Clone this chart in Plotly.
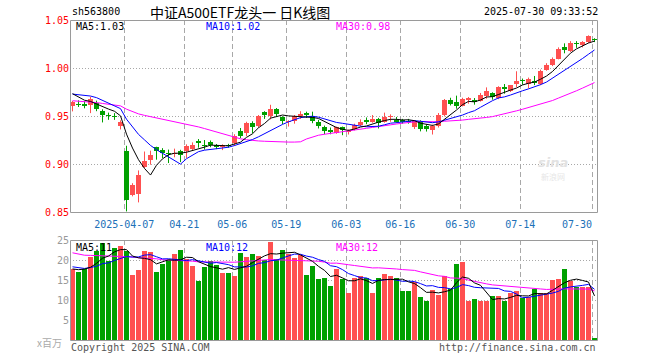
import plotly.graph_objects as go
import numpy as np

# ---------------- data ----------------
dates = [
    "2025-03-24","2025-03-25","2025-03-26","2025-03-27","2025-03-28","2025-03-31",
    "2025-04-01","2025-04-02","2025-04-03","2025-04-07","2025-04-08","2025-04-09","2025-04-10","2025-04-11",
    "2025-04-14","2025-04-15","2025-04-16","2025-04-17","2025-04-18","2025-04-21","2025-04-22","2025-04-23",
    "2025-04-24","2025-04-25","2025-04-28","2025-04-29","2025-04-30",
    "2025-05-06","2025-05-07","2025-05-08","2025-05-09","2025-05-12","2025-05-13","2025-05-14","2025-05-15",
    "2025-05-16","2025-05-19","2025-05-20","2025-05-21","2025-05-22","2025-05-23","2025-05-26","2025-05-27",
    "2025-05-28","2025-05-29","2025-05-30",
    "2025-06-03","2025-06-04","2025-06-05","2025-06-06","2025-06-09","2025-06-10","2025-06-11","2025-06-12",
    "2025-06-13","2025-06-16","2025-06-17","2025-06-18","2025-06-19","2025-06-20","2025-06-23","2025-06-24",
    "2025-06-25","2025-06-26","2025-06-27","2025-06-30",
    "2025-07-01","2025-07-02","2025-07-03","2025-07-04","2025-07-07","2025-07-08","2025-07-09","2025-07-10",
    "2025-07-11","2025-07-14","2025-07-15","2025-07-16","2025-07-17","2025-07-18","2025-07-21","2025-07-22",
    "2025-07-23","2025-07-24","2025-07-25","2025-07-28","2025-07-29","2025-07-30",
]

opens = [
    0.9607,0.9628,0.9626,0.9618,0.9635,0.9555,0.9510,0.9504,0.9392,0.9139,
    0.8680,0.8690,0.8969,0.9045,0.9173,0.9149,0.9115,0.9105,0.9131,0.9131,
    0.9160,0.9243,0.9201,0.9225,0.9201,0.9173,0.9194,0.9219,0.9347,0.9320,
    0.9427,0.9399,0.9538,0.9496,0.9573,0.9490,0.9434,0.9444,0.9496,0.9531,
    0.9503,0.9433,0.9385,0.9354,0.9323,0.9385,0.9333,0.9365,0.9406,0.9461,
    0.9440,0.9472,0.9440,0.9490,0.9461,0.9454,0.9450,0.9385,0.9444,0.9392,
    0.9350,0.9392,0.9514,0.9670,0.9642,0.9607,0.9670,0.9663,0.9660,0.9712,
    0.9740,0.9687,0.9800,0.9764,0.9833,0.9878,0.9833,0.9868,0.9836,0.9982,
    1.0027,1.0097,1.0215,1.0180,1.0260,1.0243,1.0271,1.0305,
]
highs = [
    0.9656,0.9663,0.9655,0.9700,0.9660,0.9570,0.9535,0.9530,0.9455,0.9190,
    0.8800,0.8933,0.9130,0.9139,0.9180,0.9165,0.9150,0.9160,0.9148,0.9205,
    0.9225,0.9260,0.9250,0.9245,0.9208,0.9205,0.9210,0.9310,0.9375,0.9440,
    0.9445,0.9510,0.9550,0.9617,0.9583,0.9497,0.9455,0.9510,0.9550,0.9545,
    0.9545,0.9460,0.9400,0.9380,0.9390,0.9390,0.9360,0.9420,0.9465,0.9485,
    0.9510,0.9480,0.9535,0.9517,0.9490,0.9470,0.9470,0.9455,0.9455,0.9415,
    0.9410,0.9531,0.9677,0.9690,0.9712,0.9690,0.9698,0.9687,0.9740,0.9798,
    0.9747,0.9810,0.9833,0.9823,0.9966,0.9890,0.9900,0.9917,0.9983,1.0050,
    1.0110,1.0215,1.0257,1.0280,1.0280,1.0280,1.0340,1.0310,
]
lows = [
    0.9548,0.9594,0.9580,0.9530,0.9550,0.9433,0.9460,0.9460,0.9360,0.8506,
    0.8663,0.8600,0.8960,0.8993,0.9045,0.9060,0.9010,0.9070,0.9020,0.9063,
    0.9135,0.9170,0.9150,0.9175,0.9155,0.9145,0.9170,0.9190,0.9270,0.9290,
    0.9320,0.9380,0.9470,0.9465,0.9490,0.9415,0.9390,0.9420,0.9470,0.9480,
    0.9425,0.9370,0.9310,0.9310,0.9315,0.9300,0.9307,0.9350,0.9395,0.9415,
    0.9430,0.9370,0.9430,0.9440,0.9430,0.9420,0.9420,0.9365,0.9340,0.9338,
    0.9307,0.9380,0.9496,0.9610,0.9576,0.9600,0.9628,0.9618,0.9650,0.9680,
    0.9670,0.9675,0.9733,0.9750,0.9800,0.9826,0.9788,0.9822,0.9822,0.9972,
    1.0020,1.0090,1.0153,1.0167,1.0210,1.0215,1.0260,1.0270,
]
closes = [
    0.9642,0.9615,0.9605,0.9677,0.9573,0.9510,0.9496,0.9490,0.9440,0.8620,
    0.8784,0.8890,0.9034,0.9097,0.9131,0.9115,0.9104,0.9115,0.9097,0.9183,
    0.9194,0.9215,0.9190,0.9201,0.9177,0.9194,0.9184,0.9287,0.9295,0.9427,
    0.9381,0.9496,0.9510,0.9573,0.9521,0.9450,0.9451,0.9496,0.9524,0.9510,
    0.9444,0.9399,0.9340,0.9330,0.9385,0.9357,0.9340,0.9410,0.9433,0.9440,
    0.9472,0.9427,0.9490,0.9497,0.9440,0.9440,0.9436,0.9444,0.9365,0.9365,
    0.9399,0.9514,0.9670,0.9628,0.9600,0.9677,0.9687,0.9646,0.9722,0.9756,
    0.9698,0.9798,0.9780,0.9819,0.9860,0.9860,0.9885,0.9844,0.9965,1.0027,
    1.0097,1.0200,1.0190,1.0260,1.0250,1.0271,1.0330,1.0290,
]
# volume, millions (x百万)
volumes = [
    17.8,17.1,17.75,20.8,22.3,24.3,19.8,23.0,23.6,22.3,
    16.25,17.6,22.3,22.0,17.0,19.0,20.0,21.6,22.6,20.25,
    18.6,14.8,18.3,19.8,18.8,16.8,16.8,16.0,21.8,20.75,
    21.5,21.1,20.0,24.6,20.25,22.6,21.6,20.6,21.3,16.25,
    18.6,15.3,15.6,13.6,17.8,15.3,11.75,15.6,16.0,15.6,
    11.75,15.6,16.6,16.0,15.6,12.25,12.25,14.5,10.8,9.75,
    12.5,11.3,16.0,12.8,19.0,19.6,9.75,10.25,9.75,9.75,
    11.0,11.0,9.8,11.7,12.25,10.5,10.8,12.8,11.7,11.8,
    15.0,15.3,17.8,14.75,13.3,13.3,13.3,0.5,
]
# closes / volumes of the 29 sessions before the window (needed for the moving averages)
pre_closes = [
    0.972,0.975,0.978,0.980,0.977,0.975,0.973,0.970,
    0.965,0.960,0.955,0.950,0.948,0.945,0.948,0.950,0.952,0.955,0.958,0.962,
    0.968,0.970,0.972,0.974,0.978,0.980,0.976,0.974,0.972,
]
pre_volumes = [
    28,25,22,24,26,21,23,27,22,20,24,25,21,23,26,22,20,24,23,25,
    20,19,18.5,19,17.7,18,17,18.5,17.5,
]
tick_dates = ["2025-04-07","2025-04-21","2025-05-06","2025-05-19","2025-06-03",
              "2025-06-16","2025-06-30","2025-07-14","2025-07-30"]
tick_labels = ["2025-04-07","04-21","05-06","05-19","06-03","06-16","06-30","07-14","07-30"]
price_ticks = [0.85, 0.90, 0.95, 1.00, 1.05]
vol_ticks = [5, 10, 15, 20, 25]

# ---------------- helpers ----------------
W, H = 660, 360
def px(x, y):
    return x / W, 1 - y / H

def moving_avg(pre, vals, n):
    full = np.array(pre + vals, dtype=float)
    off = len(pre)
    return [full[off + i - n + 1: off + i + 1].mean() for i in range(len(vals))]

N = len(dates)
idx = list(range(N))
RED = "#FF5050"
GREEN = "#00A000"
up = [c >= o for o, c in zip(opens, closes)]
colors = [RED if u else GREEN for u in up]

ma5 = moving_avg(pre_closes, closes, 5)
ma10 = moving_avg(pre_closes, closes, 10)
ma30 = moving_avg(pre_closes, closes, 30)
vma5 = moving_avg(pre_volumes, volumes, 5)
vma10 = moving_avg(pre_volumes, volumes, 10)
vma30 = moving_avg(pre_volumes, volumes, 30)

fig = go.Figure()

# wicks
for want, col in ((True, RED), (False, GREEN)):
    wx, wy = [], []
    for i in idx:
        if up[i] == want:
            wx += [i, i, None]
            wy += [lows[i], highs[i], None]
    fig.add_trace(go.Scatter(x=wx, y=wy, mode="lines", line=dict(color=col, width=1),
                             hoverinfo="skip", xaxis="x", yaxis="y"))

# bodies
body_h = [max(abs(c - o), 0.0011) for o, c in zip(opens, closes)]
body_b = [min(o, c) for o, c in zip(opens, closes)]
fig.add_trace(go.Bar(x=idx, y=body_h, base=body_b, width=5/6, marker=dict(color=colors, line=dict(width=0)),
                     xaxis="x", yaxis="y"))

for ser, col in ((ma30, "#FF00FF"), (ma10, "#0000FF"), (ma5, "#000000")):
    fig.add_trace(go.Scatter(x=idx, y=ser, mode="lines", line=dict(color=col, width=1),
                             xaxis="x", yaxis="y"))

# volume
fig.add_trace(go.Bar(x=idx, y=volumes, width=5/6, marker=dict(color=colors, line=dict(width=0)),
                     xaxis="x2", yaxis="y2"))
for ser, col in ((vma30, "#FF00FF"), (vma10, "#0000FF"), (vma5, "#000000")):
    fig.add_trace(go.Scatter(x=idx, y=ser, mode="lines", line=dict(color=col, width=1),
                             xaxis="x2", yaxis="y2"))

tickpos = [dates.index(d) - 0.37 for d in tick_dates]
# last label is drawn separately, pulled inside the frame like the original
axis_text = tick_labels[:-1] + [""]
xrange_ = [-0.4167, 87.5833]
xdom = [70 / W, 598 / W]
mono = "DejaVu Sans Mono"
TICKBLUE = "#2070B8"

fig.update_layout(
    template="none",
    width=W, height=H, autosize=False, margin=dict(l=0, r=0, t=0, b=0, pad=0),
    paper_bgcolor="white", plot_bgcolor="white", showlegend=False, bargap=0, barmode="overlay",
    hovermode=False,
    xaxis=dict(domain=xdom, range=xrange_, anchor="y", tickmode="array", tickvals=tickpos,
               ticktext=axis_text, showgrid=True, gridcolor="#A8A8A8", griddash="5px,3px",
               gridwidth=1, zeroline=False, showline=False, ticks="", automargin=False,
               ticklabelstandoff=5,
               tickfont=dict(family=mono, size=10, color=TICKBLUE)),
    xaxis2=dict(domain=xdom, range=xrange_, anchor="y2", tickmode="array", tickvals=tickpos,
                showticklabels=False, showgrid=True, gridcolor="#A8A8A8", griddash="5px,3px",
                gridwidth=1, zeroline=False, showline=False, ticks="", automargin=False),
    yaxis=dict(domain=[1 - 212 / H, 1 - 20 / H], range=[0.85, 1.05], anchor="x",
               tickmode="array", tickvals=price_ticks, ticktext=[f"{v:.2f}" for v in price_ticks],
               showgrid=True, gridcolor="#A8A8A8", griddash="1px,2px", zeroline=False,
               showline=False, ticks="", automargin=False,
               tickfont=dict(family=mono, size=10, color="#FF0000")),
    yaxis2=dict(domain=[1 - 340 / H, 1 - 240 / H], range=[0, 25], anchor="x2",
                tickmode="array", tickvals=vol_ticks, ticktext=[str(v) for v in vol_ticks],
                showgrid=True, gridcolor="#A8A8A8", griddash="1px,2px", zeroline=False,
                showline=False, ticks="", automargin=False,
                tickfont=dict(family=mono, size=10, color="#999999")),
)

# panel borders
for top, bot in ((20.5, 212.5), (240.5, 340.5)):
    x0, y0 = px(70.5, bot)
    x1, y1 = px(597.5, top)
    fig.add_shape(type="rect", xref="paper", yref="paper", x0=x0, y0=y0, x1=x1, y1=y1,
                  line=dict(color="#9A9A9A", width=1), fillcolor="rgba(0,0,0,0)", layer="above")

def text(x, y, s, color="#000", size=10, family=mono, anchor="left"):
    ax, ay = px(x, y)
    fig.add_annotation(x=ax, y=ay, xref="paper", yref="paper", text=s, showarrow=False,
                       xanchor=anchor, yanchor="middle", font=dict(family=family, size=size, color=color))

text(70, 12, "sh563800")
text(240, 12, "中证A500ETF龙头一 日K线图", size=14, family="Noto Sans CJK SC", anchor="center")
text(600, 12, "2025-07-30 09:33:52", anchor="right")

text(594, 224, tick_labels[-1], color=TICKBLUE, anchor="right")

text(74, 27, "MA5:1.03")
text(204, 27, "MA10:1.02", color="#0000FF")
text(334, 27, "MA30:0.98", color="#FF00FF")
text(74, 247, "MA5:11")
text(204, 247, "MA10:12", color="#0000FF")
text(334, 247, "MA30:12", color="#FF00FF")

text(64, 342, "x百万", color="#AAAAAA", size=10, family="Noto Sans CJK SC", anchor="right")
text(69, 347, "Copyright 2025 SINA.COM", color="#555555")
text(598, 347, "http://finance.sina.com.cn", color="#555555", anchor="right")
text(553, 163, "<b><i>sina</i></b>", color="#E2E2E2", size=13, family="DejaVu Sans", anchor="center")
text(553, 176, "新浪网", color="#E6E6E6", size=8, family="Noto Sans CJK SC", anchor="center")

fig.write_html("out.html", config={"displayModeBar": False, "staticPlot": True},
               post_script="document.body.style.margin='0';document.body.style.padding='0';")
